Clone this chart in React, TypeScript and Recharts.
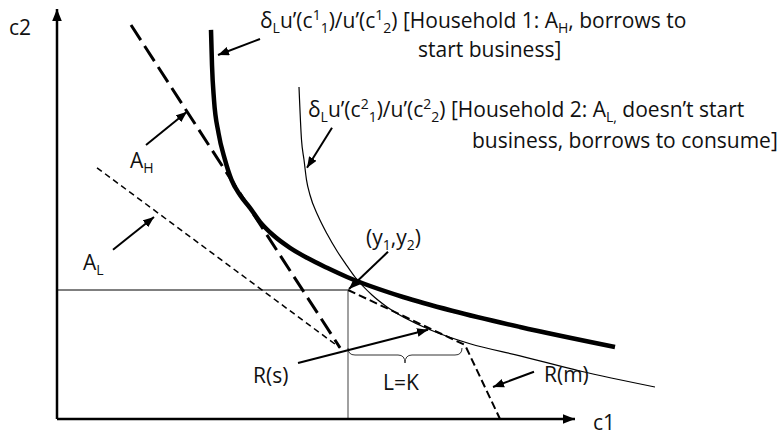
import { LineChart, Line, XAxis, YAxis, ReferenceLine, ReferenceDot } from "recharts"

// indifference curve of household 1 (thick)
const household1 = [
  { x: 3.08, y: 9.73 },
  { x: 3.1, y: 8.85 },
  { x: 3.14, y: 7.98 },
  { x: 3.23, y: 7.15 },
  { x: 3.36, y: 6.48 },
  { x: 3.49, y: 5.98 },
  { x: 3.66, y: 5.6 },
  { x: 3.86, y: 5.28 },
  { x: 4.06, y: 4.93 },
  { x: 4.32, y: 4.6 },
  { x: 4.66, y: 4.28 },
  { x: 5.0, y: 4.03 },
  { x: 5.4, y: 3.78 },
  { x: 5.8, y: 3.55 },
  { x: 6.92, y: 3.05 },
  { x: 7.92, y: 2.7 },
  { x: 9.26, y: 2.3 },
  { x: 11.16, y: 1.8 },
]

// indifference curve of household 2 (thin)
const household2 = [
  { x: 4.84, y: 8.3 },
  { x: 4.89, y: 6.98 },
  { x: 4.94, y: 6.48 },
  { x: 4.99, y: 5.98 },
  { x: 5.06, y: 5.6 },
  { x: 5.22, y: 5.08 },
  { x: 5.4, y: 4.63 },
  { x: 5.6, y: 4.2 },
  { x: 5.8, y: 3.83 },
  { x: 5.96, y: 3.55 },
  { x: 6.3, y: 3.1 },
  { x: 6.6, y: 2.8 },
  { x: 7.46, y: 2.23 },
  { x: 8.26, y: 1.88 },
  { x: 9.26, y: 1.58 },
  { x: 10.46, y: 1.2 },
  { x: 11.96, y: 0.8 },
]

const highLine = [
  { x: 1.48, y: 9.85 },
  { x: 5.66, y: 1.78 },
]
const lowLine = [
  { x: 0.8, y: 6.28 },
  { x: 5.66, y: 1.78 },
]
const kinked = [
  { x: 5.82, y: 3.225 },
  { x: 8.16, y: 1.85 },
  { x: 8.86, y: 0 },
]

const y1 = 5.82
const y2 = 3.225
const xAxisEnd = 10.36
const yAxisEnd = 10.25

const arrows = [
  [4.06, 9.5, 3.22, 9.1],
  [5.5, 7.28, 5.0, 6.28],
  [1.78, 6.85, 2.6, 7.68],
  [1.12, 4.23, 1.94, 5.05],
  [6.62, 4.18, 5.84, 3.25],
  [4.82, 1.4, 7.42, 2.23],
  [9.54, 1.18, 8.72, 0.8],
]

const brace = [5.82, 8.1, 1.775]

type Part = [string, ("sub" | "sup")?]

const labels: { x: number; y: number; parts: Part[] }[] = [
  { x: -0.96, y: 9.6, parts: [["c2"]] },
  { x: 10.72, y: -0.275, parts: [["c1"]] },
  {
    x: 4.06,
    y: 9.78,
    parts: [["δ"], ["L", "sub"], ["u’(c"], ["1", "sup"], ["1", "sub"], [")/u’(c"], ["1", "sup"], ["2", "sub"], [") [Household 1: A"], ["H", "sub"], [", borrows to"]],
  },
  { x: 7.22, y: 9.05, parts: [["start business]"]] },
  {
    x: 5.02,
    y: 7.55,
    parts: [["δ"], ["L", "sub"], ["u’(c"], ["2", "sup"], ["1", "sub"], [")/u’(c"], ["2", "sup"], ["2", "sub"], [") [Household 2: A"], ["L,", "sub"], [" doesn’t start"]],
  },
  { x: 8.3, y: 6.78, parts: [["business, borrows to consume]"]] },
  { x: 1.46, y: 6.28, parts: [["A"], ["H", "sub"]] },
  { x: 0.52, y: 3.73, parts: [["A"], ["L", "sub"]] },
  { x: 6.18, y: 4.35, parts: [["(y"], ["1", "sub"], [",y"], ["2", "sub"], [")"]] },
  { x: 3.92, y: 0.9, parts: [["R(s)"]] },
  { x: 6.52, y: 0.725, parts: [["L=K"]] },
  { x: 9.74, y: 0.925, parts: [["R(m)"]] },
]

const FONT = "'Open Sans', sans-serif"

function RichText({ x, y, parts }: { x: number; y: number; parts: Part[] }) {
  let cur = 0
  return (
    <text x={x} y={y} fontFamily={FONT} fontSize={21} fill="#111">
      {parts.map(([t, k], i) => {
        const target = k === "sub" ? 5 : k === "sup" ? -8 : 0
        const dy = target - cur
        cur = target
        return (
          <tspan key={i} dy={dy} fontSize={k ? 14 : 21}>
            {t}
          </tspan>
        )
      })}
    </text>
  )
}

const arrowShape = (p: any) => (
  <line x1={p.x1} y1={p.y1} x2={p.x2} y2={p.y2} stroke="#000" strokeWidth={2} markerEnd="url(#arr)" />
)

const axisShape = (p: any) => (
  <line x1={p.x1} y1={p.y1} x2={p.x2} y2={p.y2} stroke="#000" strokeWidth={2.5} markerEnd="url(#axarr)" />
)

const braceShape = (p: any) => {
  const xa = p.x1
  const xb = p.x2
  const y = p.y1
  const xm = (xa + xb) / 2
  const h = 7
  const r = 7
  const d = `M${xa},${y} Q${xa},${y + h} ${xa + r},${y + h} L${xm - r},${y + h} Q${xm},${y + h} ${xm},${y + h + 8} Q${xm},${y + h} ${xm + r},${y + h} L${xb - r},${y + h} Q${xb},${y + h} ${xb},${y}`
  return <path d={d} fill="none" stroke="#333" strokeWidth={1} />
}

export default function App() {
  return (
    <div style={{ position: "absolute", left: 0, top: 0, width: 783, height: 437, background: "#fff" }}>
      <svg width={0} height={0} style={{ position: "absolute" }}>
        <defs>
          <marker id="arr" viewBox="0 0 10 8" refX={10} refY={4} markerWidth={11} markerHeight={9} markerUnits="userSpaceOnUse" orient="auto">
            <path d="M0,0 L10,4 L0,8 z" fill="#000" />
          </marker>
          <marker id="axarr" viewBox="0 0 10 8" refX={10} refY={4} markerWidth={12} markerHeight={10} markerUnits="userSpaceOnUse" orient="auto">
            <path d="M0,0 L10,4 L0,8 z" fill="#000" />
          </marker>
        </defs>
      </svg>
      <LineChart width={783} height={437} margin={{ top: 9, right: 26, bottom: 18, left: 57 }}>
        <XAxis type="number" dataKey="x" domain={[0, 14]} hide />
        <YAxis type="number" dataKey="y" domain={[0, yAxisEnd]} hide />
        <ReferenceLine segment={[{ x: 0, y: y2 }, { x: y1, y: y2 }]} stroke="#000" strokeWidth={1} ifOverflow="visible" />
        <ReferenceLine segment={[{ x: y1, y: 0 }, { x: y1, y: y2 }]} stroke="#808080" strokeWidth={1.5} ifOverflow="visible" />
        <Line data={lowLine} dataKey="y" type="linear" stroke="#000" strokeWidth={1.5} strokeDasharray="6 4" dot={false} activeDot={false} isAnimationActive={false} />
        <Line data={highLine} dataKey="y" type="linear" stroke="#000" strokeWidth={3} strokeDasharray="18 7" dot={false} activeDot={false} isAnimationActive={false} />
        <Line data={kinked} dataKey="y" type="linear" stroke="#000" strokeWidth={2} strokeDasharray="8 4" dot={false} activeDot={false} isAnimationActive={false} />
        <Line data={household2} dataKey="y" type="monotone" stroke="#000" strokeWidth={1.2} dot={false} activeDot={false} isAnimationActive={false} />
        <Line data={household1} dataKey="y" type="monotone" stroke="#000" strokeWidth={4.5} dot={false} activeDot={false} isAnimationActive={false} />
        <ReferenceLine segment={[{ x: 0, y: 0 }, { x: xAxisEnd, y: 0 }]} shape={axisShape} ifOverflow="visible" />
        <ReferenceLine segment={[{ x: 0, y: 0 }, { x: 0, y: yAxisEnd }]} shape={axisShape} ifOverflow="visible" />
        <ReferenceLine segment={[{ x: brace[0], y: brace[2] }, { x: brace[1], y: brace[2] }]} shape={braceShape} ifOverflow="visible" />
        {arrows.map((a, i) => (
          <ReferenceLine key={`a${i}`} segment={[{ x: a[0], y: a[1] }, { x: a[2], y: a[3] }]} shape={arrowShape} ifOverflow="visible" />
        ))}
        {labels.map((l, i) => (
          <ReferenceDot
            key={`l${i}`}
            x={l.x}
            y={l.y}
            r={0}
            ifOverflow="visible"
            shape={(p: any) => <RichText x={p.cx} y={p.cy} parts={l.parts} />}
          />
        ))}
      </LineChart>
    </div>
  )
}
